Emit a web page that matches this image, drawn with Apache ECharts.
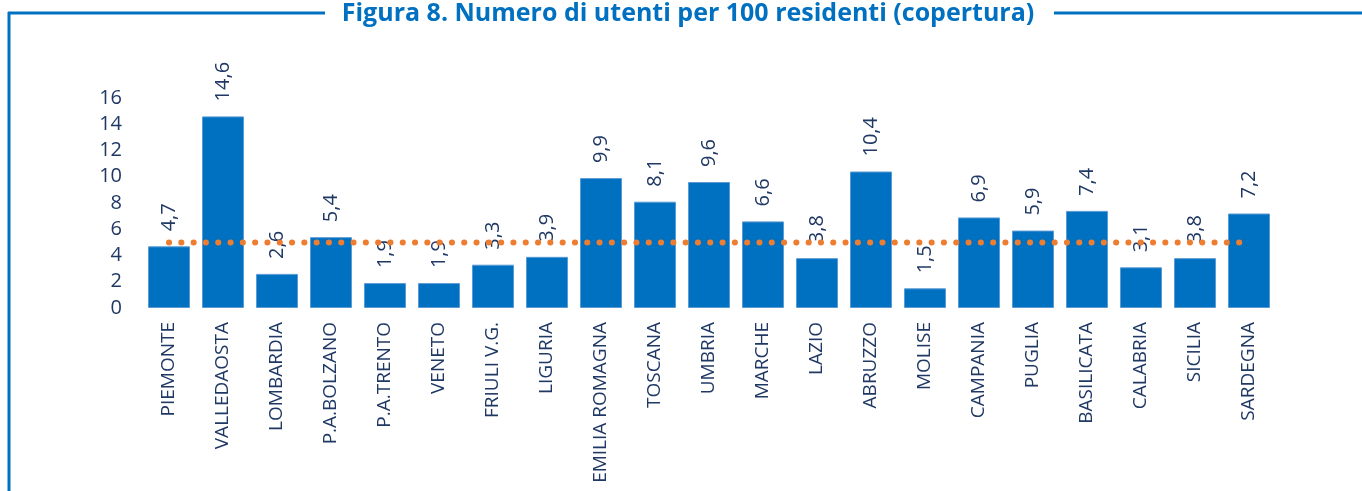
<!DOCTYPE html>
<html><head><meta charset="utf-8">
<script src="https://cdn.jsdelivr.net/npm/echarts@6/dist/echarts.min.js"></script>
<style>html,body{margin:0;padding:0;background:#fff}#c{width:1362px;height:491px}</style>
</head><body><div id="c"></div>
<script>
const titleText = 'Figura 8. Numero di utenti per 100 residenti (copertura)';
const categories = ['PIEMONTE','VALLEDAOSTA','LOMBARDIA','P.A.BOLZANO','P.A.TRENTO','VENETO','FRIULI V.G.','LIGURIA','EMILIA ROMAGNA','TOSCANA','UMBRIA','MARCHE','LAZIO','ABRUZZO','MOLISE','CAMPANIA','PUGLIA','BASILICATA','CALABRIA','SICILIA','SARDEGNA'];
const coverage = [4.7,14.6,2.6,5.4,1.9,1.9,3.3,3.9,9.9,8.1,9.6,6.6,3.8,10.4,1.5,6.9,5.9,7.4,3.1,3.8,7.2];
const averageValue = 5.0;
const average = categories.map(() => averageValue);
const yTicks = [0,2,4,6,8,10,12,14,16];

const blue = '#0070C0';
const textColor = '#1F3864';
const font = '"Open Sans", sans-serif';

const chart = echarts.init(document.getElementById('c'));
chart.setOption({
  animation: false,
  textStyle: {fontFamily: font},
  grid: {left: 142, right: 86, top: 98, bottom: 183},
  graphic: [
    {type:'line', shape:{x1:8, y1:13, x2:325, y2:13}, style:{stroke:blue, lineWidth:3}},
    {type:'line', shape:{x1:1054, y1:13, x2:1362, y2:13}, style:{stroke:blue, lineWidth:3}},
    {type:'line', shape:{x1:9, y1:12, x2:9, y2:491}, style:{stroke:blue, lineWidth:3}},
    {type:'text', x: 688, y: 14, style:{text:titleText, fill:blue, font:'bold 25px ' + font, align:'center', verticalAlign:'middle'}}
  ],
  xAxis: {
    type: 'category', data: categories,
    axisLine: {show:false}, axisTick: {show:false},
    axisLabel: {rotate: 90, color: textColor, fontSize: 19, margin: 14, fontFamily: font}
  },
  yAxis: {
    type: 'value', min: yTicks[0], max: yTicks[yTicks.length-1], interval: 2,
    splitLine: {show:false}, axisLine: {show:false}, axisTick: {show:false},
    axisLabel: {color: textColor, fontSize: 20, margin: 20, fontFamily: font}
  },
  series: [
    {
      type: 'bar', data: coverage, barWidth: 42,
      itemStyle: {color: blue, borderColor: '#5B9BD5', borderWidth: 1},
      label: {
        show: true, position: 'top', rotate: 90, align: 'left', verticalAlign: 'middle',
        distance: 15, color: textColor, fontSize: 20, fontFamily: font,
        formatter: p => p.value.toFixed(1).replace('.', ',')
      },
      z: 2
    },
    {
      type: 'line', data: average, symbol: 'none',
      lineStyle: {color: '#ED7D31', width: 6, type: [0.1, 12.2], cap: 'round'},
      z: 3
    }
  ]
});
</script></body></html>
